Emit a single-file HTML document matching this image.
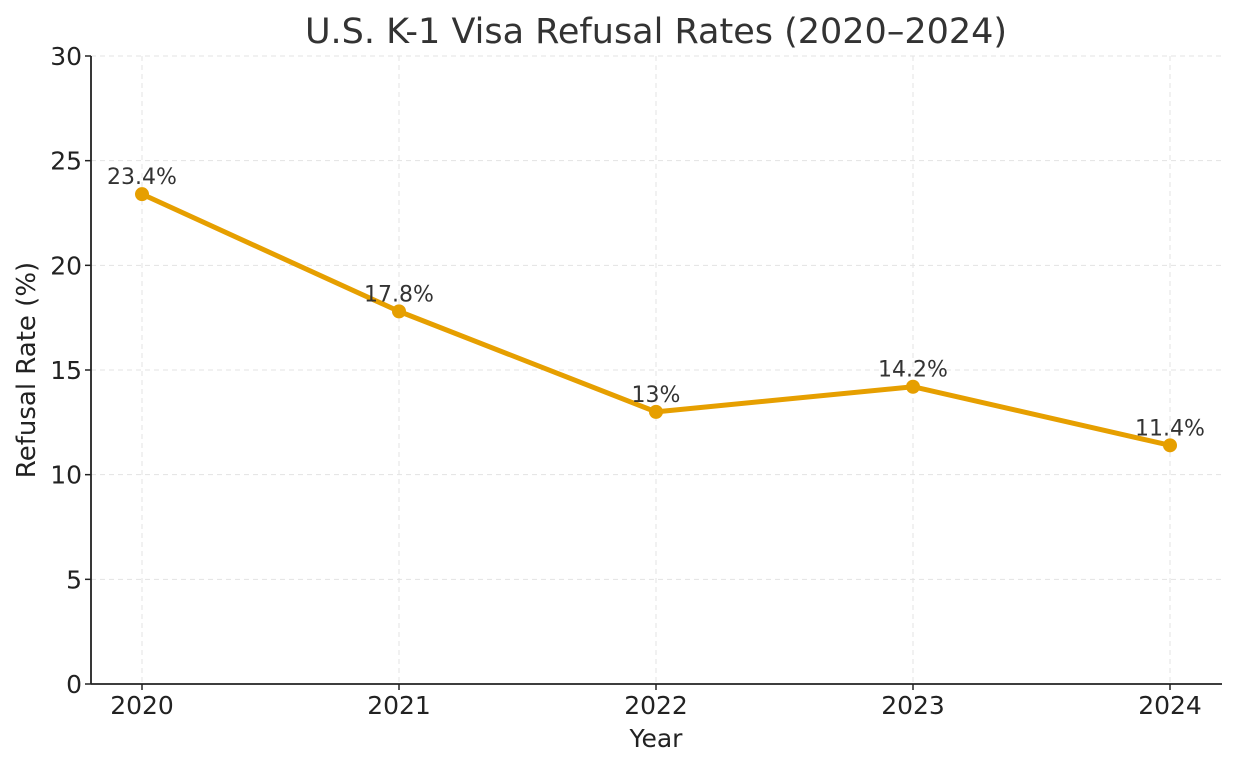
<!DOCTYPE html>
<html><head><meta charset="utf-8"><style>
html,body{margin:0;padding:0;background:#fff;}
svg{display:block;font-family:"DejaVu Sans","Liberation Sans",sans-serif;}
</style></head><body>
<svg id="chart" width="1238" height="768">
<text x="656" y="43" text-anchor="middle" font-size="35" fill="#333">U.S. K-1 Visa Refusal Rates (2020–2024)</text>
<g id="grid"></g>
<g id="axes"></g>
<g id="series"></g>
<text x="656" y="747" text-anchor="middle" font-size="25" fill="#222">Year</text>
<text transform="translate(35,370) rotate(-90)" text-anchor="middle" font-size="26" fill="#222">Refusal Rate (%)</text>
</svg>
<script>
const years = ["2020","2021","2022","2023","2024"];
const rates = [23.4, 17.8, 13, 14.2, 11.4];
const rateLabels = ["23.4%","17.8%","13%","14.2%","11.4%"];
const yTicks = [0,5,10,15,20,25,30];

const NS="http://www.w3.org/2000/svg";
const plotLeft=91,plotRight=1222,plotTop=56,plotBottom=684;
const x0=142,xStep=257;
function xs(i){return x0+i*xStep;}
function ys(v){return plotBottom-(v/30)*(plotBottom-plotTop);}
function mk(tag,attrs,parent,text){const e=document.createElementNS(NS,tag);for(const k in attrs)e.setAttribute(k,attrs[k]);if(text!==undefined)e.textContent=text;parent.appendChild(e);return e;}
const grid=document.getElementById('grid'),axes=document.getElementById('axes'),series=document.getElementById('series');

yTicks.forEach(t=>{
  const y=ys(t);
  if(t>0){const g=mk('line',{x1:plotLeft,x2:plotRight,y1:y,y2:y,stroke:'#e3e3e3','stroke-width':1,'stroke-dasharray':'5,4'},grid);
  
  }
  const tk=mk('line',{x1:plotLeft-6,x2:plotLeft,y1:y,y2:y,stroke:'#222','stroke-width':1.5},axes);
  
  
  const tl=mk('text',{x:plotLeft-9,y:y+9,'text-anchor':'end','font-size':25,fill:'#222'},axes,String(t));
  
  
});
years.forEach((yr,i)=>{
  const x=xs(i);
  const g=mk('line',{x1:x,x2:x,y1:plotTop,y2:plotBottom,stroke:'#e3e3e3','stroke-width':1,'stroke-dasharray':'5,4'},grid);
  
  
  const tk=mk('line',{x1:x,x2:x,y1:plotBottom,y2:plotBottom+6,stroke:'#222','stroke-width':1.5},axes);
  
  
  const tl=mk('text',{x:x,y:plotBottom+30,'text-anchor':'middle','font-size':25,fill:'#222'},axes,yr);
  
  
});
const la=mk('line',{x1:plotLeft,x2:plotLeft,y1:plotTop,y2:plotBottom,stroke:'#222','stroke-width':1.8},axes);


const ba=mk('line',{x1:plotLeft,x2:plotRight,y1:plotBottom,y2:plotBottom,stroke:'#222','stroke-width':1.8},axes);



const pts=rates.map((v,i)=>xs(i)+','+ys(v)).join(' ');
const pl=mk('polyline',{points:pts,fill:'none',stroke:'#E69F00','stroke-width':5,'stroke-linejoin':'round'},series);


rates.forEach((v,i)=>{
  const c=mk('circle',{cx:xs(i),cy:ys(v),r:7,fill:'#E69F00'},series);
  
  
  const t=mk('text',{x:xs(i),y:ys(v)-10,'text-anchor':'middle','font-size':22,fill:'#333'},series,rateLabels[i]);
  
  
});
</script>
</body></html>
